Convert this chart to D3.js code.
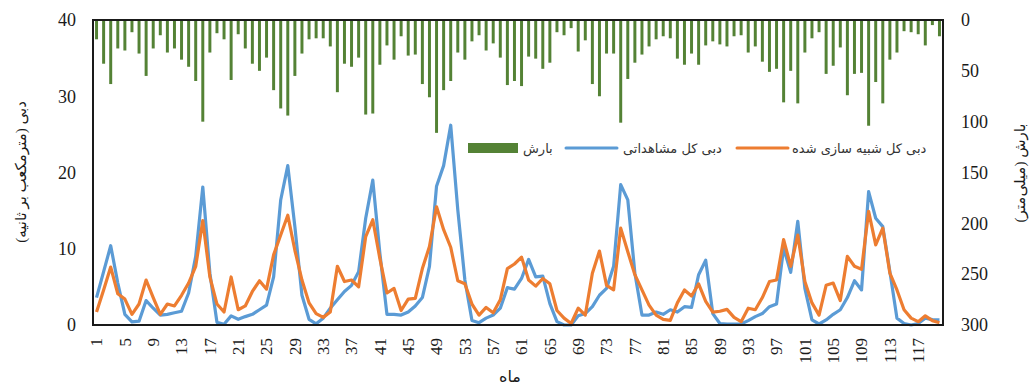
<!DOCTYPE html>
<html>
<head>
<meta charset="utf-8">
<script src="https://cdn.jsdelivr.net/npm/d3@7"></script>
<style>
  body { margin: 0; background: #fff; }
  svg { display: block; }
</style>
</head>
<body>
<div id="chart"></div>
<script>
// ماه ها (1 تا 120)
const months = d3.range(1, 121);

// بارش ماهانه (میلی متر) - محور دوم، وارونه
const rainfall = [
  19, 43, 63, 28, 30, 12, 33, 55, 28, 15, 32, 28, 39, 46, 60, 100, 32, 13, 19, 59,
  14, 28, 43, 50, 37, 69, 87, 94, 55, 33, 19, 18, 18, 26, 71, 43, 46, 37, 93, 92,
  44, 25, 39, 16, 35, 34, 63, 76, 111, 69, 60, 32, 39, 21, 15, 30, 23, 37, 64, 60,
  65, 36, 38, 48, 42, 12, 15, 8, 31, 20, 63, 75, 33, 33, 101, 58, 42, 34, 26, 19,
  16, 18, 38, 44, 33, 44, 25, 21, 24, 26, 16, 15, 32, 26, 41, 51, 48, 81, 50, 82,
  32, 18, 12, 53, 45, 27, 74, 53, 52, 104, 61, 82, 39, 32, 11, 12, 14, 25, 5, 16
];

// دبی کل مشاهداتی (مترمکعب بر ثانیه)
const observed = [
  3.6, 7.0, 10.4, 5.5, 1.4, 0.4, 0.5, 3.2, 2.2, 1.3, 1.4, 1.6, 1.8, 4.2, 9.0, 18.1, 6.8, 0.35, 0.1, 1.2,
  0.75, 1.1, 1.4, 2.0, 2.6, 6.3, 16.4, 20.9, 12.9, 3.9, 0.75, 0.15, 0.9, 2.2, 3.3, 4.4, 5.2, 7.0, 14.0, 19.0,
  9.4, 1.4, 1.4, 1.3, 1.7, 2.5, 3.6, 7.7, 18.2, 20.9, 26.2, 15.1, 5.9, 0.6, 0.3, 0.9, 1.3, 2.2, 4.9, 4.7,
  6.1, 8.6, 6.3, 6.4, 2.8, 0.45, 0, 0, 1.2, 1.5, 2.4, 3.9, 4.8, 7.7, 18.4, 16.4, 6.8, 1.3, 1.3, 1.7,
  1.4, 2.0, 1.7, 2.4, 2.3, 6.6, 8.5, 1.5, 0.2, 0.13, 0.13, 0.13, 0.57, 1.1, 1.5, 2.4, 2.75, 10.1, 6.9, 13.6,
  4.8, 0.66, 0.13, 0.66, 1.4, 2.0, 3.6, 5.8, 4.6, 17.5, 14.0, 12.9, 7.0, 0.9, 0.2, 0, 0.2, 0.9, 0.7, 0.66
];

// دبی کل شبیه سازی شده (مترمکعب بر ثانیه)
const simulated = [
  1.7, 4.6, 7.6, 4.1, 3.4, 1.4, 2.75, 5.9, 3.6, 1.4, 2.75, 2.5, 3.9, 5.5, 7.7, 13.7, 6.3, 2.75, 1.7, 6.3,
  2.0, 2.5, 4.4, 5.8, 4.7, 9.2, 11.8, 14.4, 9.8, 5.9, 2.9, 1.5, 1.0, 1.7, 7.7, 5.7, 5.9, 5.0, 11.6, 13.8,
  8.7, 4.2, 4.8, 1.9, 3.4, 3.5, 7.4, 10.3, 15.5, 12.5, 10.2, 5.8, 5.4, 2.75, 1.3, 2.3, 1.6, 3.3, 7.4, 8.0,
  8.9, 5.9, 5.1, 6.1, 5.4, 1.9, 0.9, 0.2, 2.2, 1.3, 6.8, 9.7, 5.2, 4.6, 12.7, 9.6, 6.6, 4.6, 2.6, 1.3,
  0.74, 0.6, 2.9, 4.6, 3.8, 5.4, 3.1, 1.7, 1.8, 2.05, 1.0, 0.44, 2.2, 2.0, 3.6, 5.7, 5.9, 11.2, 7.7, 11.8,
  5.7, 2.9, 1.3, 5.2, 5.5, 3.2, 9.0, 7.7, 7.3, 14.9, 10.5, 12.7, 6.8, 4.6, 2.0, 0.9, 0.44, 1.2, 0.57, 0.3
];

const monthTicks = [1, 5, 9, 13, 17, 21, 25, 29, 33, 37, 41, 45, 49, 53, 57, 61, 65, 69, 73, 77, 81, 85, 89, 93, 97, 101, 105, 109, 113, 117];
const flowTicks = [0, 10, 20, 30, 40];
const rainTicks = [0, 50, 100, 150, 200, 250, 300];

const legendLabels = ['بارش', 'دبی کل مشاهداتی', 'دبی کل شبیه سازی شده'];
const colors = { rain: '#548235', obs: '#5B9BD5', sim: '#ED7D31' };

const width = 1032, height = 387;
const plot = { left: 93, right: 943, top: 20, bottom: 325 };

const svg = d3.select('#chart').append('svg')
  .attr('width', width)
  .attr('height', height);

const x = d3.scaleBand()
  .domain(months)
  .range([plot.left, plot.right])
  .paddingInner(0.58)
  .paddingOuter(0.29);

const yFlow = d3.scaleLinear().domain([0, 40]).range([plot.bottom, plot.top]);
const yRain = d3.scaleLinear().domain([0, 300]).range([plot.top, plot.bottom]); // وارونه

const cx = m => x(m) + x.bandwidth() / 2;

// ستون های بارش از بالا
svg.append('g')
  .selectAll('rect')
  .data(months)
  .enter().append('rect')
  .attr('x', m => x(m))
  .attr('y', yRain(0))
  .attr('width', x.bandwidth())
  .attr('height', (m, i) => yRain(rainfall[i]) - yRain(0))
  .attr('fill', colors.rain);

const line = d3.line()
  .x((d, i) => cx(months[i]))
  .y(d => yFlow(d));

svg.append('path')
  .attr('d', line(observed))
  .attr('fill', 'none')
  .attr('stroke', colors.obs)
  .attr('stroke-width', 3.2)
  .attr('stroke-linejoin', 'round');

svg.append('path')
  .attr('d', line(simulated))
  .attr('fill', 'none')
  .attr('stroke', colors.sim)
  .attr('stroke-width', 3.2)
  .attr('stroke-linejoin', 'round');

// کادر نمودار
svg.append('rect')
  .attr('x', plot.left)
  .attr('y', plot.top)
  .attr('width', plot.right - plot.left)
  .attr('height', plot.bottom - plot.top)
  .attr('fill', 'none')
  .attr('stroke', '#1a1a1a')
  .attr('stroke-width', 2);

const tickFont = "Liberation Serif, Times New Roman, serif";

// محور چپ
const axLeft = svg.append('g')
  .attr('transform', `translate(${plot.left},0)`)
  .call(d3.axisLeft(yFlow).tickValues(flowTicks).tickSize(0).tickPadding(17))
  .attr('font-family', tickFont)
  .attr('font-size', 18);
axLeft.select('.domain').remove();
axLeft.selectAll('text').attr('fill', '#1a1a1a');

// محور راست
const axRight = svg.append('g')
  .attr('transform', `translate(${plot.right},0)`)
  .call(d3.axisRight(yRain).tickValues(rainTicks).tickSize(0).tickPadding(18))
  .attr('font-family', tickFont)
  .attr('font-size', 18);
axRight.select('.domain').remove();
axRight.selectAll('text').attr('fill', '#1a1a1a');

// محور افقی
const axBottom = svg.append('g')
  .attr('transform', `translate(0,${plot.bottom})`)
  .call(d3.axisBottom(x).tickValues(monthTicks).tickSize(0))
  .attr('font-family', tickFont)
  .attr('font-size', 17);
axBottom.select('.domain').remove();
axBottom.selectAll('text')
  .attr('transform', 'rotate(-90)')
  .attr('text-anchor', 'end')
  .attr('x', -13)
  .attr('y', 0)
  .attr('dy', '0.35em')
  .attr('fill', '#1a1a1a');

// عنوان محورها
const titleFont = "Liberation Serif, DejaVu Sans, serif";
svg.append('text')
  .attr('transform', 'translate(21,172) rotate(-90)')
  .attr('text-anchor', 'middle')
  .attr('dominant-baseline', 'central')
  .attr('font-family', titleFont)
  .attr('font-size', 15)
  .attr('fill', '#1a1a1a')
  .text('دبی (مترمکعب بر ثانیه)');

svg.append('text')
  .attr('transform', 'translate(1020,173) rotate(-90)')
  .attr('text-anchor', 'middle')
  .attr('dominant-baseline', 'central')
  .attr('font-family', titleFont)
  .attr('font-size', 15)
  .attr('fill', '#1a1a1a')
  .text('بارش (میلی‌متر)');

svg.append('text')
  .attr('x', 510)
  .attr('y', 382)
  .attr('text-anchor', 'middle')
  .attr('font-family', titleFont)
  .attr('font-size', 16)
  .attr('fill', '#1a1a1a')
  .text('ماه');

// راهنما
const legendY = 148;
const legendItems = [
  { label: legendLabels[0], color: colors.rain, type: 'rect', x0: 468, tx: 523 },
  { label: legendLabels[1], color: colors.obs, type: 'line', x0: 566, tx: 623 },
  { label: legendLabels[2], color: colors.sim, type: 'line', x0: 737, tx: 792 }
];

const legend = svg.selectAll('.legend')
  .data(legendItems)
  .enter().append('g')
  .attr('class', 'legend');

legend.filter(d => d.type === 'rect').append('rect')
  .attr('x', d => d.x0)
  .attr('y', legendY - 5)
  .attr('width', 50)
  .attr('height', 10)
  .attr('fill', d => d.color);

legend.filter(d => d.type === 'line').append('line')
  .attr('x1', d => d.x0)
  .attr('x2', d => d.x0 + 51)
  .attr('y1', legendY)
  .attr('y2', legendY)
  .attr('stroke', d => d.color)
  .attr('stroke-width', 3)
  .attr('stroke-linecap', 'round');

legend.append('text')
  .attr('x', d => d.tx)
  .attr('y', legendY)
  .attr('dy', '0.35em')
  .attr('text-anchor', 'start')
  .attr('font-family', 'DejaVu Sans, sans-serif')
  .attr('font-size', 13)
  .attr('fill', '#333')
  .text(d => d.label);
</script>
</body>
</html>
